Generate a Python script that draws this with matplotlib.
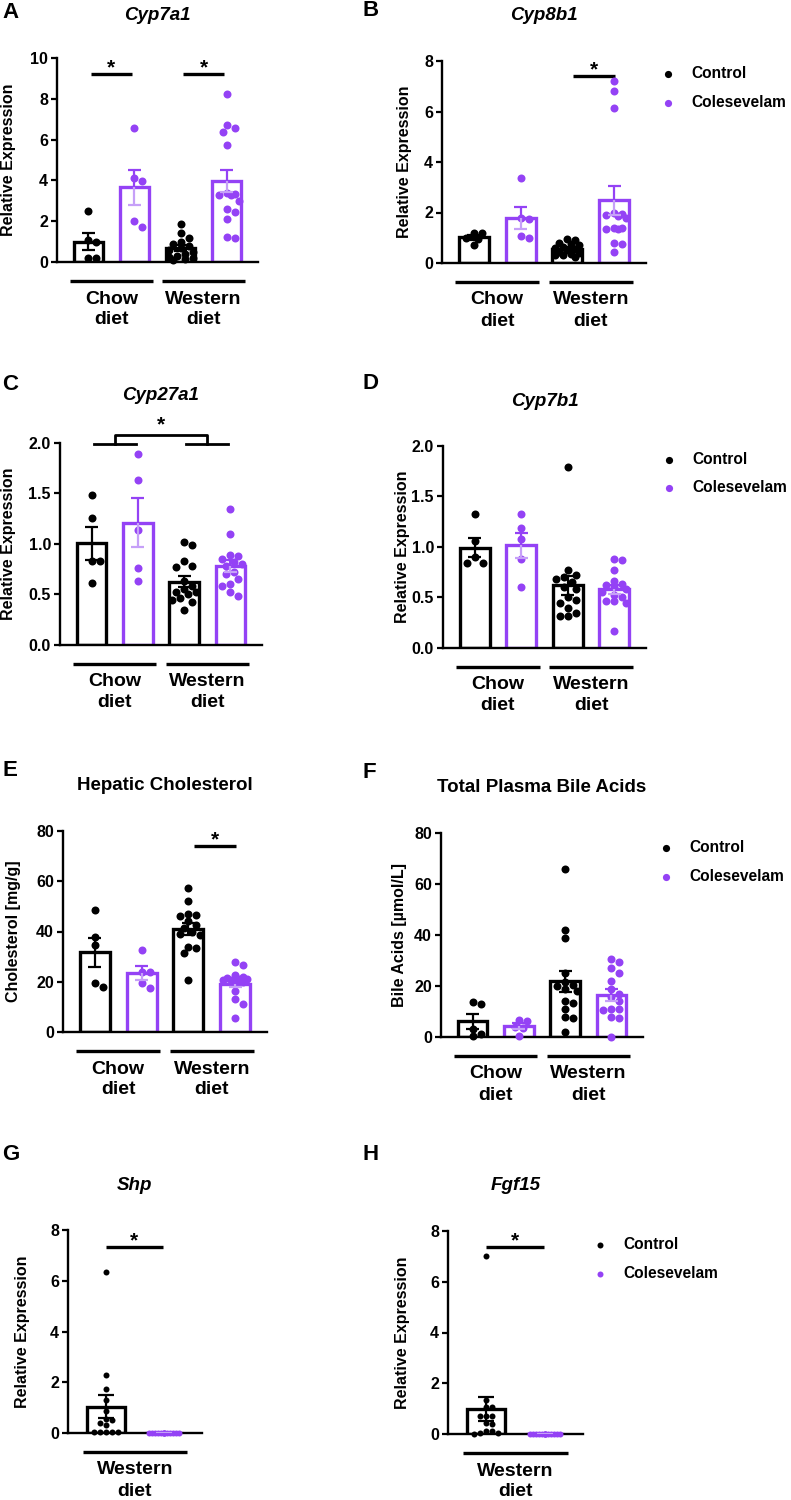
import numpy as np
import matplotlib
matplotlib.use('Agg')
import matplotlib.pyplot as plt
from matplotlib.transforms import blended_transform_factory

plt.rcParams['font.family'] = ['Liberation Sans', 'DejaVu Sans']
plt.rcParams['font.weight'] = 'bold'

# ---------------- data ----------------
series_names = ['Control', 'Colesevelam']
group_names_4 = [('Chow', 'diet'), ('Western', 'diet')]
group_names_2 = [('Western', 'diet')]

cyp7a1_chow_ctrl = [2.5, 1.1, 1.0, 0.2, 0.2]
cyp7a1_chow_cole = [6.55, 4.1, 3.95, 2.0, 1.7]
cyp7a1_west_ctrl = [1.85, 1.4, 1.2, 1.0, 0.9, 0.8, 0.7, 0.6, 0.5, 0.4, 0.3, 0.25, 0.2, 0.15, 0.1]
cyp7a1_west_cole = [8.25, 6.7, 6.55, 6.35, 5.75, 3.4, 3.35, 3.3, 3.3, 3.0, 2.6, 2.45, 2.1, 1.25, 1.2]

cyp8b1_chow_ctrl = [1.2, 1.2, 1.0, 0.95, 0.7]
cyp8b1_chow_cole = [3.36, 1.8, 1.75, 1.05, 1.0]
cyp8b1_west_ctrl = [0.95, 0.9, 0.8, 0.75, 0.7, 0.65, 0.6, 0.55, 0.5, 0.45, 0.4, 0.35, 0.3, 0.3, 0.25]
cyp8b1_west_cole = [7.2, 6.8, 6.15, 2.0, 1.95, 1.9, 1.85, 1.8, 1.4, 1.4, 1.35, 1.35, 0.8, 0.75, 0.45]

cyp27a1_chow_ctrl = [1.49, 1.26, 0.835, 0.835, 0.61]
cyp27a1_chow_cole = [1.89, 1.63, 1.14, 0.76, 0.63]
cyp27a1_west_ctrl = [1.02, 0.99, 0.83, 0.78, 0.77, 0.63, 0.58, 0.55, 0.52, 0.52, 0.5, 0.47, 0.45, 0.43, 0.35]
cyp27a1_west_cole = [1.35, 1.1, 0.89, 0.88, 0.85, 0.82, 0.8, 0.78, 0.72, 0.7, 0.65, 0.6, 0.58, 0.52, 0.49]

cyp7b1_chow_ctrl = [1.33, 1.06, 0.9, 0.84, 0.84]
cyp7b1_chow_cole = [1.33, 1.19, 1.08, 0.88, 0.6]
cyp7b1_west_ctrl = [1.79, 0.77, 0.72, 0.7, 0.68, 0.65, 0.6, 0.58, 0.5, 0.48, 0.45, 0.4, 0.35, 0.32, 0.32]
cyp7b1_west_cole = [0.88, 0.87, 0.77, 0.66, 0.63, 0.62, 0.6, 0.58, 0.55, 0.52, 0.5, 0.47, 0.47, 0.45, 0.17]

chol_chow_ctrl = [48.5, 38.0, 34.6, 19.4, 18.1]
chol_chow_cole = [32.7, 24.0, 24.0, 19.4, 17.5]
chol_west_ctrl = [57.5, 52.0, 47.0, 46.5, 46.0, 44.0, 42.5, 41.5, 40.0, 39.0, 38.5, 34.0, 33.5, 31.5, 20.5]
chol_west_cole = [28.0, 26.5, 22.5, 22.0, 21.5, 21.0, 21.0, 20.5, 20.5, 20.0, 20.0, 16.5, 13.0, 11.0, 5.5]

ba_chow_ctrl = [13.8, 12.9, 3.3, 1.0, 0.2]
ba_chow_cole = [6.6, 6.4, 4.0, 3.5, 0.2]
ba_west_ctrl = [66.0, 42.0, 39.0, 25.0, 21.5, 20.5, 20.0, 19.0, 18.0, 14.0, 13.5, 11.0, 8.0, 7.5, 2.0]
ba_west_cole = [30.5, 29.5, 27.0, 25.0, 22.0, 19.0, 17.0, 15.5, 14.0, 11.0, 11.0, 10.5, 8.0, 7.5, 0.0]

shp_west_ctrl = [6.36, 2.27, 1.74, 1.31, 0.85, 0.55, 0.5, 0.4, 0.3, 0.05, 0.05, 0.05, 0.05, 0.05]
shp_west_cole = [0.01] * 14

fgf15_west_ctrl = [7.0, 1.34, 1.08, 1.05, 0.72, 0.72, 0.72, 0.45, 0.4, 0.1, 0.1, 0.05, 0.05, 0.0]
fgf15_west_cole = [0.0] * 14

# ---------------- style ----------------
W, H = 791, 1500
BLACK = '#000000'
PURPLE = '#9442F5'
LIGHT = '#C6A0F8'
PX2PT = 0.72

fig = plt.figure(figsize=(W / 100, H / 100), dpi=100)


def rect(l, t, r, b):
    return [l / W, 1 - b / H, (r - l) / W, (b - t) / H]


def swarm_offsets(vals, y_scale, d, max_half):
    vals = np.asarray(vals, float)
    ys = vals * y_scale
    order = np.argsort(-vals, kind='stable')
    step = d / 2.0
    cands = [0.0]
    k = 1
    while k * step <= max_half + 1e-9:
        cands += [k * step, -k * step]
        k += 1
    px, py = [], []
    off = np.zeros(len(vals))
    for i in order:
        chosen = None
        best_c, best_s = 0.0, -1.0
        for c in cands:
            if px:
                dist = np.min(np.hypot(np.array(px) - c, np.array(py) - ys[i]))
            else:
                dist = np.inf
            if dist >= d * 0.92:
                chosen = c
                break
            if dist > best_s:
                best_s, best_c = dist, c
        if chosen is None:
            chosen = best_c
        px.append(chosen)
        py.append(ys[i])
        off[i] = chosen
    return off


def panel(box, sets, ylim, yticks, fmt, title, italic, title_y, letter, letter_xy,
          ylabel, ylabel_x, groups, sigs=(), bracket=None, legend=None,
          bar_w=0.64, marker_px=8.0, xpad=0.68, leg_scale=0.9):
    l, t, r, b = box
    ax = fig.add_axes(rect(l, t, r, b))
    n = len(sets)
    pos = np.arange(n)
    xlim = (-xpad, n - 1 + xpad)
    ax.set_xlim(*xlim)
    ax.set_ylim(*ylim)
    xs = (r - l) / (xlim[1] - xlim[0])   # px per x unit
    ysc = (b - t) / (ylim[1] - ylim[0])  # px per y unit
    colors = [BLACK if i % 2 == 0 else PURPLE for i in range(n)]
    lights = [BLACK if i % 2 == 0 else LIGHT for i in range(n)]
    means = np.array([np.mean(s) for s in sets])
    sems = np.array([np.std(s, ddof=1) / np.sqrt(len(s)) for s in sets])
    ax.bar(pos, means, width=bar_w, facecolor='white', edgecolor=colors,
           linewidth=2.4, zorder=2)
    handles = []
    for i, s in enumerate(sets):
        off = swarm_offsets(s, ysc, marker_px, bar_w * xs / 2 - 2.5) / xs
        sc = ax.scatter(pos[i] + off, s, s=(marker_px * PX2PT) ** 2, color=colors[i],
                        linewidths=0, zorder=3, clip_on=False)
        if i < 2:
            handles.append(sc)
    cap = 0.14
    for i in range(n):
        m, e = means[i], sems[i]
        ax.vlines(pos[i], m, m + e, color=colors[i], lw=1.6, zorder=4)
        ax.hlines(m + e, pos[i] - cap, pos[i] + cap, color=colors[i], lw=1.6, zorder=4)
        ax.vlines(pos[i], m - e, m, color=lights[i], lw=1.6, zorder=4)
        ax.hlines(m - e, pos[i] - cap, pos[i] + cap, color=lights[i], lw=1.6, zorder=4)
    for sp in ['top', 'right']:
        ax.spines[sp].set_visible(False)
    for sp in ['left', 'bottom']:
        ax.spines[sp].set_linewidth(1.7)
    ax.set_xticks([])
    ax.set_yticks(yticks)
    ax.set_yticklabels([fmt.format(v) for v in yticks])
    ax.tick_params(axis='y', length=4.5, width=1.6, labelsize=11.5, pad=2)
    for lab in ax.get_yticklabels():
        lab.set_fontweight('bold')
    # group lines and labels
    trans = blended_transform_factory(ax.transData, ax.transAxes)
    shift = matplotlib.transforms.ScaledTranslation(0, -19 / 100, fig.dpi_scale_trans)
    for g, (w1, w2) in enumerate(groups):
        c0 = 2 * g
        line = plt.Line2D([c0 - 0.4, c0 + 1.4], [0, 0], color='black',
                          lw=2.4, clip_on=False, solid_capstyle='butt')
        line.set_transform(trans + shift)
        ax.add_line(line)
        ax.annotate(w1, xy=(c0 + 0.5, 0), xycoords=trans, xytext=(0, -37 * PX2PT),
                    textcoords='offset points', ha='center', va='center', fontsize=14,
                    fontweight='bold', annotation_clip=False)
        ax.annotate(w2, xy=(c0 + 0.5, 0), xycoords=trans, xytext=(0, -58 * PX2PT),
                    textcoords='offset points', ha='center', va='center', fontsize=14,
                    fontweight='bold', annotation_clip=False)
    # significance lines
    for (x0, x1, yv) in sigs:
        ax.plot([x0, x1], [yv, yv], color='black', lw=2.4, clip_on=False,
                solid_capstyle='butt')
        ax.annotate('*', xy=((x0 + x1) / 2, yv), xytext=(0, 0.5), textcoords='offset points',
                    ha='center', va='baseline', fontsize=15, fontweight='bold',
                    annotation_clip=False)
    if bracket is not None:
        yl, yt = bracket
        ax.plot([0.05, 0.95], [yl, yl], color='black', lw=2.0, clip_on=False)
        ax.plot([2.05, 2.95], [yl, yl], color='black', lw=2.0, clip_on=False)
        ax.plot([0.5, 0.5, 2.5, 2.5], [yl, yt, yt, yl], color='black', lw=2.0,
                clip_on=False)
        ax.annotate('*', xy=(1.5, yt), xytext=(0, 3), textcoords='offset points',
                    ha='center', va='baseline', fontsize=15, fontweight='bold',
                    annotation_clip=False)
    # texts
    fig.text((l + r) / 2 / W, 1 - title_y / H, title, ha='center', va='center',
             fontsize=13.5, fontweight='bold', fontstyle='italic' if italic else 'normal')
    fig.text(letter_xy[0] / W, 1 - letter_xy[1] / H, letter, ha='left', va='center',
             fontsize=16, fontweight='bold')
    fig.text(ylabel_x / W, 1 - (t + b) / 2 / H, ylabel, ha='center', va='center',
             rotation=90, fontsize=11.5, fontweight='bold')
    if legend is not None:
        mx, y1, y2 = legend
        fs = 11.2
        fs_px = fs / PX2PT
        hl = 0.6
        leg = ax.legend(handles, series_names, loc='center left',
                        bbox_to_anchor=((mx - hl * fs_px / 2) / W, 1 - (y1 + y2) / 2 / H),
                        bbox_transform=fig.transFigure, frameon=False, fontsize=fs,
                        handlelength=hl, handletextpad=1.2, labelspacing=0.85,
                        borderpad=0, borderaxespad=0, markerscale=leg_scale,
                        scatterpoints=1)
        for tx in leg.get_texts():
            tx.set_fontweight('bold')
    return ax


panel((57, 58, 258, 262),
      [cyp7a1_chow_ctrl, cyp7a1_chow_cole, cyp7a1_west_ctrl, cyp7a1_west_cole],
      (0, 10), [0, 2, 4, 6, 8, 10], '{:g}', 'Cyp7a1', True, 15, 'A', (2, 12),
      'Relative Expression', 9, group_names_4,
      sigs=[(0.05, 0.95, 9.23), (2.05, 2.95, 9.23)])

panel((442, 61, 646, 263),
      [cyp8b1_chow_ctrl, cyp8b1_chow_cole, cyp8b1_west_ctrl, cyp8b1_west_cole],
      (0, 8), [0, 2, 4, 6, 8], '{:g}', 'Cyp8b1', True, 15, 'B', (363, 11),
      'Relative Expression', 405, group_names_4,
      sigs=[(2.12, 3.02, 7.39)], legend=(668, 73, 103))

panel((60, 443, 262, 645),
      [cyp27a1_chow_ctrl, cyp27a1_chow_cole, cyp27a1_west_ctrl, cyp27a1_west_cole],
      (0, 2.0), [0.0, 0.5, 1.0, 1.5, 2.0], '{:.1f}', 'Cyp27a1', True, 395, 'C', (2, 385),
      'Relative Expression', 9, group_names_4, bracket=(1.99, 2.08))

panel((443, 446, 646, 648),
      [cyp7b1_chow_ctrl, cyp7b1_chow_cole, cyp7b1_west_ctrl, cyp7b1_west_cole],
      (0, 2.0), [0.0, 0.5, 1.0, 1.5, 2.0], '{:.1f}', 'Cyp7b1', True, 402, 'D', (363, 383),
      'Relative Expression', 402, group_names_4, legend=(669, 459, 488))

panel((63, 831, 267, 1032),
      [chol_chow_ctrl, chol_chow_cole, chol_west_ctrl, chol_west_cole],
      (0, 80), [0, 20, 40, 60, 80], '{:g}', 'Hepatic Cholesterol', False, 786, 'E', (2, 770),
      'Cholesterol [mg/g]', 14, group_names_4, sigs=[(2.12, 3.02, 73.9)])

panel((441, 833, 643, 1037),
      [ba_chow_ctrl, ba_chow_cole, ba_west_ctrl, ba_west_cole],
      (0, 80), [0, 20, 40, 60, 80], '{:g}', 'Total Plasma Bile Acids', False, 788, 'F',
      (363, 772), 'Bile Acids [µmol/L]', 400, group_names_4, legend=(666, 847, 877))

panel((68, 1230, 202, 1433),
      [shp_west_ctrl, shp_west_cole],
      (0, 8), [0, 2, 4, 6, 8], '{:g}', 'Shp', True, 1185, 'G', (2, 1155),
      'Relative Expression', 23, group_names_2, sigs=[(0.0, 0.98, 7.34)],
      bar_w=0.655, marker_px=6.0, xpad=0.655)

panel((448, 1231, 583, 1434),
      [fgf15_west_ctrl, fgf15_west_cole],
      (0, 8), [0, 2, 4, 6, 8], '{:g}', 'Fgf15', True, 1185, 'H', (363, 1155),
      'Relative Expression', 403, group_names_2, sigs=[(0.0, 0.98, 7.38)],
      legend=(600, 1244, 1274), bar_w=0.655, marker_px=6.0, xpad=0.655, leg_scale=1.0)

fig.savefig('out.png', dpi=100)
